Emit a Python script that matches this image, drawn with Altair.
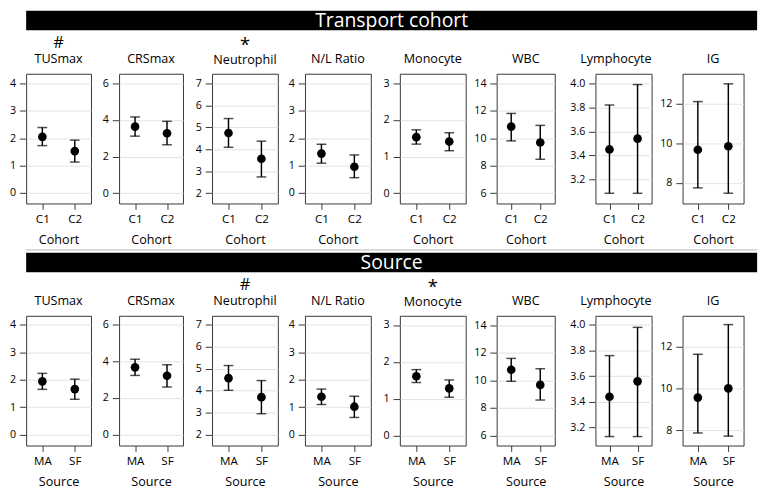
import altair as alt
import pandas as pd

FONT = "Open Sans"

measures = ["TUSmax", "CRSmax", "Neutrophil", "N/L Ratio",
            "Monocyte", "WBC", "Lymphocyte", "IG"]

# Transport cohort: mean and interval bounds for C1 / C2
cohort_groups = ["C1", "C2"]
cohort_marks = ["#", "", "*", "", "", "", "", ""]
cohort_mean = [[2.05, 1.53], [3.64, 3.28], [4.74, 3.57], [1.44, 0.96],
               [1.53, 1.41], [10.85, 9.69], [3.45, 3.54], [9.67, 9.85]]
cohort_lower = [[1.73, 1.13], [3.12, 2.65], [4.09, 2.74], [1.09, 0.56],
                [1.34, 1.16], [9.81, 8.47], [3.085, 3.085], [7.74, 7.47]]
cohort_upper = [[2.39, 1.93], [4.17, 3.93], [5.40, 4.37], [1.78, 1.39],
                [1.73, 1.65], [11.81, 10.94], [3.82, 3.99], [12.11, 13.01]]

# Source: mean and interval bounds for MA / SF
source_groups = ["MA", "SF"]
source_marks = ["", "", "#", "", "*", "", "", ""]
source_mean = [[1.94, 1.66], [3.67, 3.21], [4.57, 3.71], [1.38, 1.02],
               [1.61, 1.28], [10.77, 9.67], [3.44, 3.56], [9.56, 10.00]]
source_lower = [[1.65, 1.29], [3.23, 2.60], [4.02, 2.96], [1.10, 0.63],
                [1.44, 1.04], [9.93, 8.57], [3.13, 3.13], [7.87, 7.72]]
source_upper = [[2.23, 2.02], [4.11, 3.81], [5.14, 4.46], [1.66, 1.40],
                [1.79, 1.51], [11.59, 10.84], [3.76, 3.98], [11.63, 13.05]]

# y-axis tick labels per measure
tick_values = [[0, 1, 2, 3, 4], [0, 2, 4, 6], [2, 3, 4, 5, 6, 7], [0, 1, 2, 3, 4],
               [0, 1, 2, 3], [6, 8, 10, 12, 14], [3.2, 3.4, 3.6, 3.8, 4.0], [8, 10, 12]]
tick_formats = ["d", "d", "d", "d", "d", "d", ".1f", "d"]

cohort_domains = [[-0.38, 4.35], [-0.56, 6.53], [1.53, 7.44], [-0.38, 4.35],
                  [-0.28, 3.26], [5.25, 14.7], [3.0, 4.08], [6.95, 13.52]]
source_domains = [[-0.39, 4.32], [-0.58, 6.47], [1.52, 7.39], [-0.39, 4.32],
                  [-0.27, 3.25], [5.27, 14.68], [3.06, 4.07], [7.27, 13.47]]

# panel sizes and the room reserved for each y axis
panel_widths = [67, 66, 68, 68, 68, 60, 58, 63]
axis_extents = [23, 25, 26, 24, 26, 28, 38, 28]
ROW_H = 134
BANNER_W = 755


def panel(i, groups, mean, lower, upper, mark, domain, xtitle):
    df = pd.DataFrame({"group": groups, "mean": mean[i],
                       "lo": lower[i], "hi": upper[i]})
    xenc = alt.X("group:N", sort=groups,
                 scale=alt.Scale(type="point", padding=0.5),
                 axis=alt.Axis(title=xtitle, labelAngle=0, domain=False,
                               tickSize=6, tickColor="#333", labelPadding=4.5,
                               labelFontSize=12, labelFont=FONT, labelColor="black",
                               titleFontSize=13, titleFont=FONT, titleFontWeight="normal",
                               titleColor="black", titlePadding=10, grid=False))
    yscale = alt.Scale(domain=domain, nice=False, zero=False)
    yaxis = alt.Axis(values=tick_values[i], format=tick_formats[i], title=None,
                     grid=True, gridColor="#e2e2e2", domain=False, tickSize=7,
                     tickColor="#333", labelPadding=4, labelFontSize=11,
                     labelFont=FONT, labelColor="black", labelOverlap=False,
                     minExtent=axis_extents[i], maxExtent=axis_extents[i])

    def yenc(field):
        return alt.Y(field, scale=yscale, axis=yaxis)

    base = alt.Chart(df).encode(x=xenc)
    bars = base.mark_rule(color="black", strokeWidth=1.5).encode(
        y=yenc("lo:Q"), y2="hi:Q")
    cap_hi = base.mark_tick(color="black", size=10, thickness=1.5).encode(y=yenc("hi:Q"))
    cap_lo = base.mark_tick(color="black", size=10, thickness=1.5).encode(y=yenc("lo:Q"))
    dots = base.mark_circle(color="black", size=80, opacity=1).encode(y=yenc("mean:Q"))

    # the asterisk glyph is small, so it gets a larger font and less padding
    big = mark == "*"
    title = alt.TitleParams(
        text=mark if mark else " ", subtitle=measures[i],
        font=FONT, fontSize=19 if big else 17, fontWeight="normal", color="black",
        subtitleFont=FONT, subtitleFontSize=13, subtitleColor="black",
        subtitlePadding=0 if big else 2, offset=7, frame="group",
        anchor="end" if measures[i] == "Lymphocyte" else "middle")
    return alt.layer(bars, cap_hi, cap_lo, dots).properties(
        width=panel_widths[i], height=ROW_H, title=title)


def banner(label, rule_above=False):
    df = pd.DataFrame({"label": [label]})
    base = alt.Chart(df)
    rect = base.mark_rect(color="black").encode(
        x=alt.value(0), x2=alt.value(BANNER_W), y=alt.value(0), y2=alt.value(20))
    text = base.mark_text(color="white", font=FONT, fontSize=20).encode(
        text="label:N", x=alt.value(BANNER_W / 2), y=alt.value(10.5))
    layers = [rect, text]
    if rule_above:
        line = base.mark_rule(color="#b5b5b5", strokeWidth=1).encode(
            x=alt.value(0), x2=alt.value(BANNER_W), y=alt.value(-3))
        layers.insert(0, line)
    return alt.layer(*layers).properties(
        width=BANNER_W, height=20, view=alt.ViewBackground(stroke=None))


def row(groups, mean, lower, upper, marks, domains, xtitle):
    return alt.hconcat(*[
        panel(i, groups, mean, lower, upper, marks[i], domains[i], xtitle)
        for i in range(len(measures))
    ], spacing=2)


chart = alt.vconcat(
    banner("Transport cohort"),
    row(cohort_groups, cohort_mean, cohort_lower, cohort_upper,
        cohort_marks, cohort_domains, "Cohort"),
    banner("Source", rule_above=True),
    row(source_groups, source_mean, source_lower, source_upper,
        source_marks, source_domains, "Source"),
    spacing=2,
).properties(
    padding={"left": 3, "top": 3, "right": 3, "bottom": 1},
    background="white",
).configure_view(
    stroke="#333", strokeWidth=1
)

chart.save("out.html", embed_options={"renderer": "svg", "actions": False})
